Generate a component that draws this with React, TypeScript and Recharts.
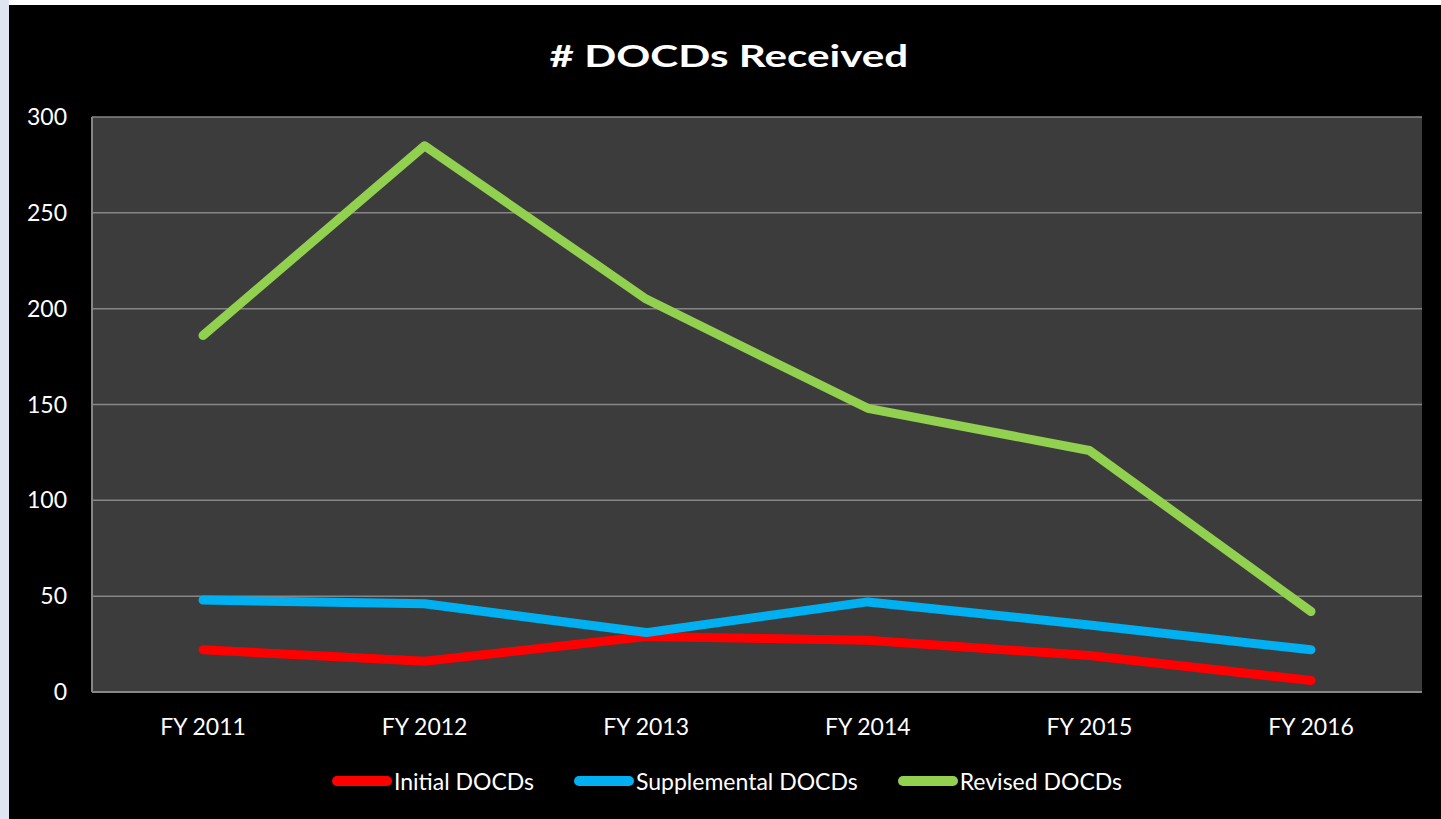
import { LineChart, Line, XAxis, YAxis, CartesianGrid, Legend } from "recharts";

const years = ["FY 2011", "FY 2012", "FY 2013", "FY 2014", "FY 2015", "FY 2016"];
const initialDocds = [22, 16, 29, 27, 19, 6];
const supplementalDocds = [48, 46, 31, 47, 35, 22];
const revisedDocds = [186, 285, 205, 148, 126, 42];
const yTicks = [0, 50, 100, 150, 200, 250, 300];
const seriesOrder = ["Initial DOCDs", "Supplemental DOCDs", "Revised DOCDs"];

const data = years.map((year, i) => ({
  year,
  initial: initialDocds[i],
  supplemental: supplementalDocds[i],
  revised: revisedDocds[i],
}));

const FONT = "Lato, 'Open Sans', sans-serif";

function LegendContent({ payload }: any) {
  const items = [...(payload || [])].sort(
    (a: any, b: any) => seriesOrder.indexOf(a.value) - seriesOrder.indexOf(b.value)
  );
  return (
    <div style={{ display: "flex", justifyContent: "center", alignItems: "center", gap: 40 }}>
      {items.map((item: any) => (
        <div key={item.value} style={{ display: "flex", alignItems: "center" }}>
          <span
            style={{
              display: "inline-block",
              width: 60,
              height: 10,
              borderRadius: 5,
              background: item.color,
              marginRight: 2,
            }}
          />
          <span style={{ color: "#fff", fontSize: 23, fontFamily: FONT }}>{item.value}</span>
        </div>
      ))}
    </div>
  );
}

export default function App() {
  return (
    <div
      style={{
        position: "absolute",
        left: 0,
        top: 0,
        width: 1441,
        height: 819,
        background: "#ffffff",
        overflow: "hidden",
      }}
    >
      <div style={{ position: "absolute", left: 0, top: 0, width: 9, height: 819, background: "#dfe5f1" }} />
      <div style={{ position: "absolute", left: 9, top: 5, width: 1432, height: 814, background: "#000" }}>
        <div
          style={{
            position: "absolute",
            left: 0,
            top: 31,
            width: 1440,
            textAlign: "center",
            color: "#fff",
            fontFamily: FONT,
            fontWeight: 700,
            fontSize: 31,
          }}
        >
          <span style={{ display: "inline-block", transform: "scaleX(1.36)" }}># DOCDs Received</span>
        </div>
        <LineChart
          width={1432}
          height={814}
          data={data}
          margin={{ top: 112, right: 19, bottom: 69, left: 23 }}
          style={{ fontFamily: FONT }}
        >
          <CartesianGrid vertical={false} stroke="#868686" strokeWidth={1.5} fill="#3c3c3c" />
          <XAxis
            dataKey="year"
            padding={{ left: 111, right: 111 }}
            axisLine={{ stroke: "#868686", strokeWidth: 2 }}
            tickLine={false}
            tickSize={0}
            tickMargin={27}
            tick={{ fill: "#fff", fontSize: 23 }}
          />
          <YAxis
            width={60}
            domain={[0, 300]}
            ticks={yTicks}
            axisLine={{ stroke: "#868686", strokeWidth: 2 }}
            tickLine={false}
            tickSize={0}
            tickMargin={25}
            tick={{ fill: "#fff", fontSize: 23 }}
          />
          <Legend verticalAlign="bottom" wrapperStyle={{ bottom: 24 }} content={<LegendContent />} />
          <Line
            dataKey="initial"
            name="Initial DOCDs"
            stroke="#ff0000"
            strokeWidth={9}
            strokeLinecap="round"
            strokeLinejoin="round"
            dot={false}
            isAnimationActive={false}
          />
          <Line
            dataKey="supplemental"
            name="Supplemental DOCDs"
            stroke="#00b0f0"
            strokeWidth={9}
            strokeLinecap="round"
            strokeLinejoin="round"
            dot={false}
            isAnimationActive={false}
          />
          <Line
            dataKey="revised"
            name="Revised DOCDs"
            stroke="#92d050"
            strokeWidth={9}
            strokeLinecap="round"
            strokeLinejoin="round"
            dot={false}
            isAnimationActive={false}
          />
        </LineChart>
      </div>
    </div>
  );
}
